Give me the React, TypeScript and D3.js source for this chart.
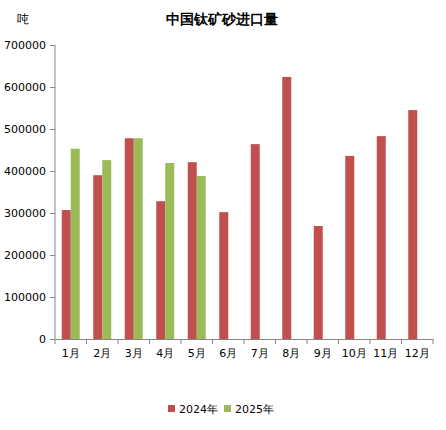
import { useEffect, useRef } from 'react';
import * as d3 from 'd3';

const months = ['1月', '2月', '3月', '4月', '5月', '6月', '7月', '8月', '9月', '10月', '11月', '12月'];
const values2024 = [307000, 390000, 478000, 328000, 421000, 302000, 464000, 624000, 269000, 436000, 483000, 545000];
const values2025 = [453000, 426000, 478000, 419000, 388000];
const yTicks = [0, 100000, 200000, 300000, 400000, 500000, 600000, 700000];
const seriesNames = ['2024年', '2025年'];
const colors = ['#C0504D', '#9BBB59'];

const App = () => {
  const svgRef = useRef<SVGSVGElement | null>(null);

  useEffect(() => {
    const svg = d3.select(svgRef.current);
    svg.selectAll('*').remove();
    const width = 446;
    const height = 430;
    const margin = { top: 45, right: 13, bottom: 91, left: 55 };
    const font = '"DejaVu Sans", sans-serif';

    const x = d3.scaleBand()
      .domain(months)
      .range([margin.left, width - margin.right])
      .paddingInner(0)
      .paddingOuter(0);

    const y = d3.scaleLinear()
      .domain([0, 700000])
      .range([height - margin.bottom, margin.top]);

    const barWidth = 9;
    const groupOffset = (x.bandwidth() - barWidth * 2) / 2;

    // Bars
    const series = [values2024, values2025];
    series.forEach((vals, si) => {
      svg.append('g')
        .selectAll('rect')
        .data(vals)
        .enter()
        .append('rect')
        .attr('x', (_, i) => x(months[i])! + groupOffset + si * barWidth)
        .attr('y', d => y(d))
        .attr('width', barWidth)
        .attr('height', d => y(0) - y(d))
        .attr('fill', colors[si]);
    });

    // Y axis
    const yAxis = svg.append('g')
      .attr('transform', `translate(${margin.left},0)`)
      .call(d3.axisLeft(y).tickValues(yTicks).tickSize(5).tickPadding(4).tickFormat(d3.format('d')));
    yAxis.select('.domain').attr('stroke', '#868686').attr('d', `M0,${y(700000)}V${y(0)}`);
    yAxis.selectAll('.tick line').attr('stroke', '#868686');
    yAxis.selectAll('text').attr('font-family', font).attr('font-size', 11).attr('fill', '#000');

    // X axis
    const xAxis = svg.append('g')
      .attr('transform', `translate(0,${y(0)})`)
      .call(d3.axisBottom(x).tickSize(0).tickPadding(10));
    xAxis.select('.domain').attr('stroke', '#868686');
    xAxis.selectAll('text').attr('font-family', font).attr('font-size', 11).attr('fill', '#000');
    svg.append('g')
      .selectAll('line')
      .data(d3.range(months.length + 1))
      .enter()
      .append('line')
      .attr('x1', i => margin.left + i * x.bandwidth())
      .attr('x2', i => margin.left + i * x.bandwidth())
      .attr('y1', y(0))
      .attr('y2', y(0) + 5)
      .attr('stroke', '#868686');

    // Title and unit
    svg.append('text')
      .attr('x', 222)
      .attr('y', 24)
      .attr('text-anchor', 'middle')
      .attr('font-family', font)
      .attr('font-size', 14)
      .attr('font-weight', 'bold')
      .attr('fill', '#000')
      .text('中国钛矿砂进口量');
    svg.append('text')
      .attr('x', 17)
      .attr('y', 23)
      .attr('font-family', font)
      .attr('font-size', 12)
      .attr('fill', '#000')
      .text('吨');

    // Legend
    const legend = svg.append('g');
    const legendX = [168, 224];
    seriesNames.forEach((name, i) => {
      legend.append('rect')
        .attr('x', legendX[i])
        .attr('y', 405)
        .attr('width', 7)
        .attr('height', 7)
        .attr('fill', colors[i]);
      legend.append('text')
        .attr('x', legendX[i] + 11)
        .attr('y', 413)
        .attr('font-family', font)
        .attr('font-size', 11)
        .attr('fill', '#000')
        .text(name);
    });
  }, []);

  return (
    <svg
      ref={svgRef}
      width={446}
      height={430}
      style={{ position: 'absolute', left: 0, top: 0, background: '#fff' }}
    ></svg>
  );
};

export default App;
